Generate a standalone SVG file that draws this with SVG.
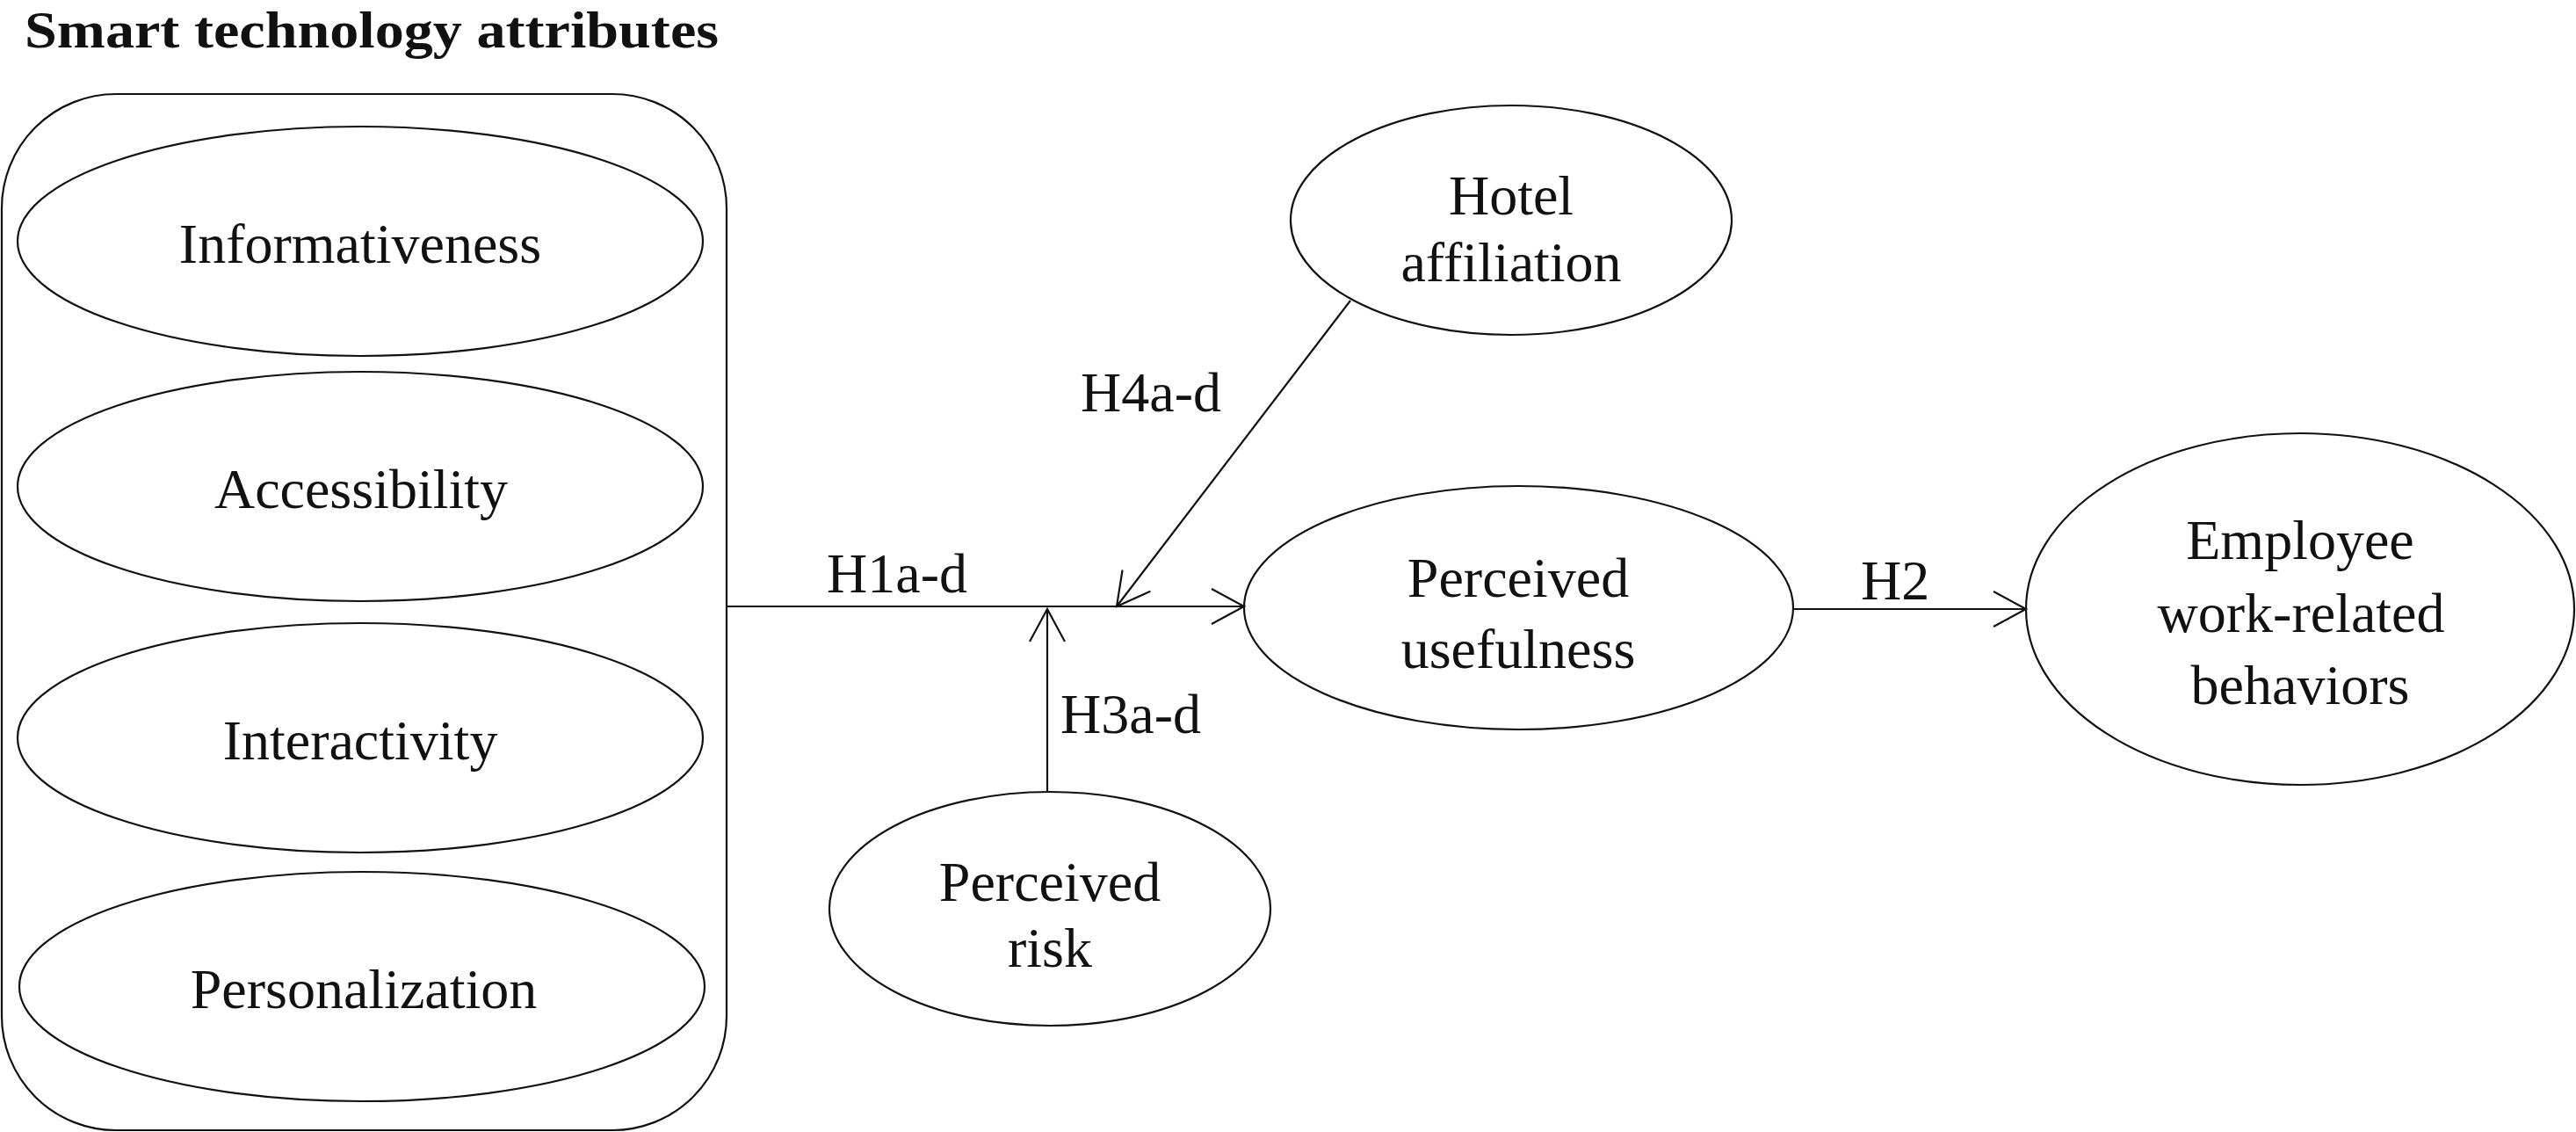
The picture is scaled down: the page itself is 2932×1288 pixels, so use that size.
<svg xmlns="http://www.w3.org/2000/svg" width="2932" height="1288" viewBox="0 0 2932 1288">
<defs>
<style>
.shape{fill:none;stroke:#111;stroke-width:2.2}
.conn{fill:none;stroke:#111;stroke-width:2.2}
.t{font-family:"Liberation Serif","Times New Roman",serif;font-size:64px;fill:#111;text-anchor:middle}
.lbl{font-family:"Liberation Serif","Times New Roman",serif;font-size:64px;fill:#111}
.title{font-family:"Liberation Serif","Times New Roman",serif;font-size:60px;font-weight:bold;fill:#111}
</style>
<marker id="arr" markerUnits="userSpaceOnUse" markerWidth="60" markerHeight="60" viewBox="-50 -30 60 60" refX="0" refY="0" orient="auto" overflow="visible">
<path d="M -37 -20 L 0 0 L -37 20" fill="none" stroke="#111" stroke-width="2.2"/>
</marker>
</defs>
<rect width="2932" height="1288" fill="#fff"/>
<text class="title" x="28" y="54" textLength="790" lengthAdjust="spacingAndGlyphs">Smart technology attributes</text>
<g id="smart-technology-attributes">
<rect class="shape" x="2" y="107" width="825" height="1179" rx="130" ry="130"/>
</g>
<g id="informativeness">
<ellipse class="shape" cx="410" cy="274.5" rx="390" ry="130.5"/>
<text class="t" x="410" y="299">Informativeness</text>
</g>
<g id="accessibility">
<ellipse class="shape" cx="410" cy="553.5" rx="390" ry="130.5"/>
<text class="t" x="411" y="578">Accessibility</text>
</g>
<g id="interactivity">
<ellipse class="shape" cx="410" cy="839.5" rx="390" ry="130.5"/>
<text class="t" x="410" y="864">Interactivity</text>
</g>
<g id="personalization">
<ellipse class="shape" cx="412" cy="1122.5" rx="390" ry="130.5"/>
<text class="t" x="414" y="1147">Personalization</text>
</g>
<g id="hotel-affiliation">
<ellipse class="shape" cx="1720" cy="250.5" rx="251" ry="130.5"/>
<text class="t" x="1720" y="244">Hotel</text>
<text class="t" x="1720" y="320">affiliation</text>
</g>
<g id="perceived-usefulness">
<ellipse class="shape" cx="1728.5" cy="691.5" rx="312.5" ry="138.5"/>
<text class="t" x="1728" y="679">Perceived</text>
<text class="t" x="1728" y="760">usefulness</text>
</g>
<g id="perceived-risk">
<ellipse class="shape" cx="1195" cy="1034" rx="251" ry="133"/>
<text class="t" x="1195" y="1025">Perceived</text>
<text class="t" x="1195" y="1100">risk</text>
</g>
<g id="employee-work-related-behaviors">
<ellipse class="shape" cx="2618" cy="693" rx="312" ry="200"/>
<text class="t" x="2618" y="636">Employee</text>
<text class="t" x="2619" y="719">work-related</text>
<text class="t" x="2618" y="801">behaviors</text>
</g>
<g id="connectors">
<line class="conn" x1="827" y1="690" x2="1416" y2="690" marker-end="url(#arr)"/>
<text class="lbl" x="941" y="674">H1a-d</text>
<line class="conn" x1="1537" y1="342" x2="1271" y2="690" marker-end="url(#arr)"/>
<text class="lbl" x="1230" y="468">H4a-d</text>
<line class="conn" x1="1192" y1="900" x2="1192" y2="693" marker-end="url(#arr)"/>
<text class="lbl" x="1207" y="834">H3a-d</text>
<line class="conn" x1="2041" y1="693" x2="2306" y2="693" marker-end="url(#arr)"/>
<text class="lbl" x="2118" y="682">H2</text>
</g>
</svg>
